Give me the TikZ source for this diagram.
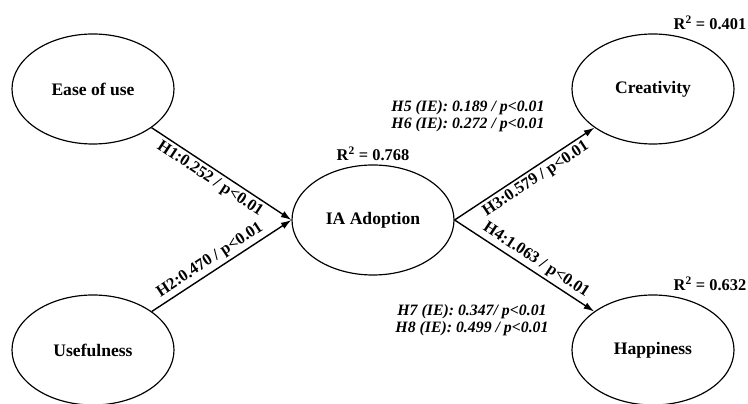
\documentclass[tikz,border=0pt]{standalone}
\usepackage{fontspec}
\setmainfont{Liberation Serif}
\usetikzlibrary{arrows.meta,shapes.geometric}
\begin{document}
\begin{tikzpicture}[x=0.03cm,y=-0.03cm,
  construct/.style={ellipse,draw,line width=1pt,minimum width=4.86cm,minimum height=3.3cm,inner sep=0pt,font=\fontsize{15}{18}\selectfont\bfseries},
  link/.style={-{Latex[length=9pt,width=6pt]},line width=1.2pt},
  coef/.style={sloped,inner sep=2.5pt,font=\fontsize{14}{16}\selectfont\bfseries},
  rsq/.style={font=\fontsize{14}{16}\selectfont\bfseries},
  ie/.style={align=center,font=\fontsize{13.5}{14.5}\selectfont\bfseries\itshape}]
  \useasboundingbox (0,0) rectangle (748,404);
  \clip (0,0) rectangle (748,404);

  \node[construct] (ease) at (93,89) {Ease of use};
  \node[construct] (use) at (93,350) {Usefulness};
  \node[construct] (ia) at (373,220) {IA Adoption};
  \node[construct] (crea) at (653,89) {Creativity};
  \node[construct] (happ) at (653,350) {Happiness};

  \node[rsq] (r2ia) at (373,154) {R\textsuperscript{2} = 0.768};
  \node[rsq] (r2crea) at (710,23) {R\textsuperscript{2} = 0.401};
  \node[rsq] (r2happ) at (710,284) {R\textsuperscript{2} = 0.632};

  \node[ie] (ie56) at (468,116) {H5 (IE): 0.189 / p<0.01\\H6 (IE): 0.272 / p<0.01};
  \node[ie] (ie78) at (472,320) {H7 (IE): 0.347/ p<0.01\\H8 (IE): 0.499 / p<0.01};

  \draw[link] (ease) -- (ia.west) node[coef,pos=0.46,below] {H1:0.252 / p<0.01};
  \draw[link] (use) -- (ia.west) node[coef,pos=0.46,above] {H2:0.470 / p<0.01};
  \draw[link] (ia.east) -- (crea) node[coef,pos=0.54,below] {H3:0.579 / p<0.01};
  \draw[link] (ia.east) -- (happ) node[coef,pos=0.54,above] {H4:1.063 / p<0.01};
\end{tikzpicture}
\end{document}
